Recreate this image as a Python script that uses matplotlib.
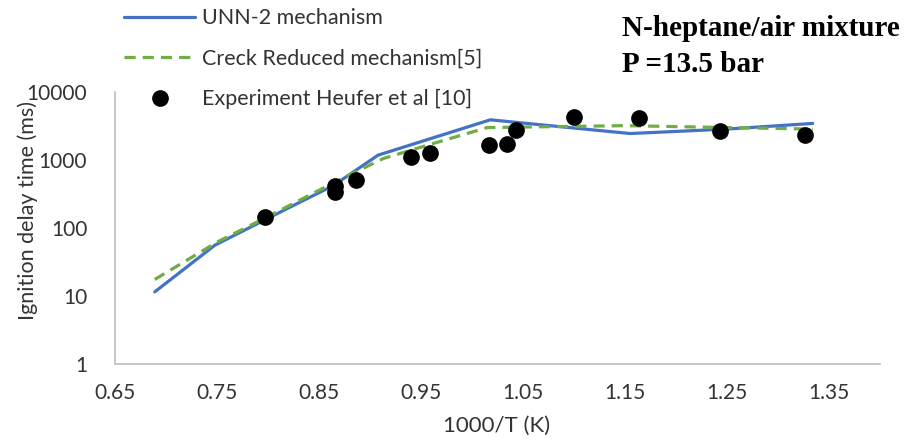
import numpy as np
import matplotlib
matplotlib.use("Agg")
from matplotlib import pyplot as plt

# UNN-2 mechanism (blue solid)
unn_x = [0.689, 0.748, 0.825, 0.864, 0.908, 1.018, 1.155, 1.25, 1.334]
unn_y = [11.5, 56, 215, 420, 1180, 3900, 2450, 2850, 3450]

# Creck reduced mechanism (green dashed)
creck_x = [0.689, 0.75, 0.795, 0.864, 0.913, 0.962, 1.015, 1.15, 1.25, 1.334]
creck_y = [17.5, 62, 135, 460, 1050, 1750, 3000, 3200, 3000, 2850]

# Experiment Heufer et al
exp_x = [0.797, 0.866, 0.866, 0.886, 0.940, 0.959, 1.017, 1.034, 1.043, 1.100, 1.164, 1.243, 1.326]
exp_y = [145, 420, 340, 500, 1120, 1260, 1650, 1720, 2750, 4250, 4100, 2700, 2350]

xticks = [0.65, 0.75, 0.85, 0.95, 1.05, 1.15, 1.25, 1.35]
yticks = [1, 10, 100, 1000, 10000]

plt.rcParams['font.family'] = ['Lato', 'DejaVu Sans']
txt = '#333333'

fig = plt.figure(figsize=(9.08, 4.42), dpi=100)
ax = fig.add_axes([115/908, 78/442, 765/908, 272/442])

ax.plot(unn_x, unn_y, color='#4472C4', lw=2.3, label='UNN-2 mechanism',
        solid_capstyle='round')
ax.plot(creck_x, creck_y, color='#70AD47', lw=2.3, ls=(0, (3.5, 2.2)),
        label='Creck Reduced mechanism[5]')
ax.plot(exp_x, exp_y, 'o', color='black', ms=11, ls='none',
        label='Experiment Heufer et al [10]')

ax.set_yscale('log')
ax.set_ylim(1, 10000)
ax.set_xlim(0.65, 1.40)
ax.set_xticks(xticks)
ax.set_xticklabels([f"{t:.2f}" for t in xticks])
ax.set_yticks(yticks)
ax.set_yticklabels([str(t) for t in yticks])
ax.minorticks_off()
ax.tick_params(length=0, labelsize=15, pad=14, colors=txt)
ax.tick_params(axis='y', pad=20)

for s in ['top', 'right']:
    ax.spines[s].set_visible(False)
for s in ['left', 'bottom']:
    ax.spines[s].set_color('#bfbfbf')
    ax.spines[s].set_linewidth(1.2)

ax.set_xlabel('1000/T (K)', fontsize=16, color=txt)
ax.set_ylabel('Ignition delay time (ms)', fontsize=15.5, color=txt, va='center')
ax.xaxis.set_label_coords(0.499, -0.19)
ax.yaxis.set_label_coords(-0.114, 0.566)

fig.legend(loc='upper left', bbox_to_anchor=(105/908, 1.025), frameon=False,
           fontsize=15.5, handlelength=3.3, labelspacing=0.95, handletextpad=0.3,
           labelcolor=txt)

fig.text(622/908, 1 - 28/442, 'N-heptane/air mixture', family='Liberation Serif',
         weight='bold', fontsize=21, va='center', ha='left')
fig.text(622/908, 1 - 64/442, 'P =13.5 bar', family='Liberation Serif',
         weight='bold', fontsize=21, va='center', ha='left')

fig.savefig('out.png', dpi=100)
